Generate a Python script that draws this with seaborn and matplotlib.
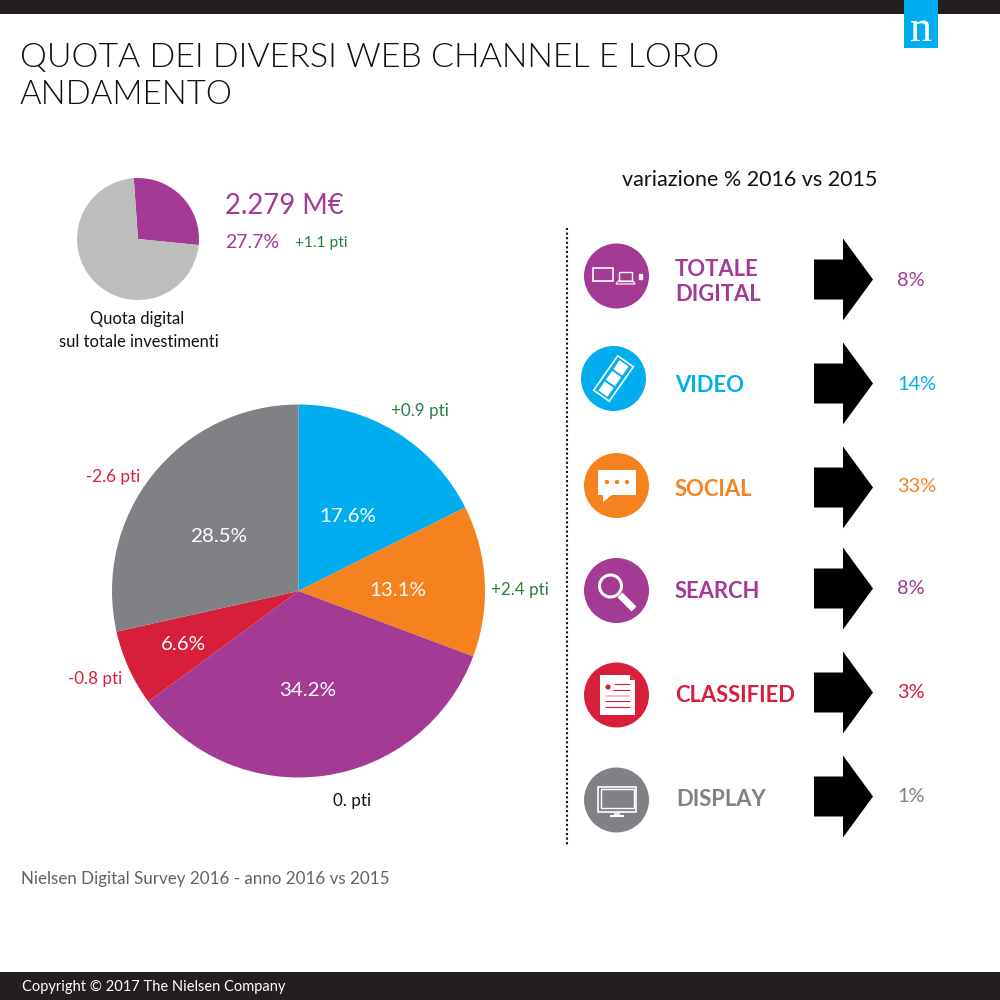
import matplotlib
matplotlib.use("Agg")
import matplotlib.pyplot as plt
from matplotlib.patches import Circle, Polygon, Rectangle
import seaborn as sns

# ---- Data ----
channels = ["VIDEO", "SOCIAL", "SEARCH", "CLASSIFIED", "DISPLAY"]
shares = [17.6, 13.1, 34.2, 6.6, 28.5]
share_labels = ["17.6%", "13.1%", "34.2%", "6.6%", "28.5%"]
pti_labels = ["+0.9 pti", "+2.4 pti", "0. pti", "-0.8 pti", "-2.6 pti"]
digital_share = [27.7, 72.3]
row_names = ["TOTALE\nDIGITAL", "VIDEO", "SOCIAL", "SEARCH", "CLASSIFIED", "DISPLAY"]
row_changes = ["8%", "14%", "33%", "8%", "3%", "1%"]

# ---- Colours ----
PURPLE = "#a33a94"
BLUE = "#00aeef"
ORANGE = "#f6821f"
RED = "#d71f3c"
GREY = "#808184"
GREEN = "#27813f"
DARK = "#231f20"
pie_colors = sns.color_palette([BLUE, ORANGE, PURPLE, RED, GREY])
row_colors = [PURPLE, BLUE, ORANGE, PURPLE, RED, GREY]

sns.set_theme(style="white")
plt.rcParams["font.family"] = ["Lato", "DejaVu Sans"]


def px(size):
    # font size in pixels at dpi 100
    return size * 0.72


def pie_axes(fig, cx, cy, r):
    ax = fig.add_axes([(cx - r) / 1000, 1 - (cy + r) / 1000, 2 * r / 1000, 2 * r / 1000])
    return ax


fig = plt.figure(figsize=(10, 10), dpi=100, facecolor="white")

# ---- Small pie ----
ax_small = pie_axes(fig, 138, 239, 61)
ax_small.pie(digital_share, colors=[PURPLE, "#bdbdbd"], startangle=94, counterclock=False,
             radius=1, wedgeprops={"linewidth": 0})
ax_small.set_xlim(-1, 1)
ax_small.set_ylim(-1, 1)

# ---- Big pie ----
ax_big = pie_axes(fig, 298.5, 591, 186.5)
ax_big.pie(shares, colors=pie_colors, startangle=90, counterclock=False,
           radius=1, wedgeprops={"linewidth": 0})
ax_big.set_xlim(-1, 1)
ax_big.set_ylim(-1, 1)

# full page layer on top, in pixels
bg = fig.add_axes([0, 0, 1, 1])
bg.set_xlim(0, 1000)
bg.set_ylim(1000, 0)
bg.axis("off")
bg.patch.set_alpha(0)

# ---- Header and footer ----
bg.add_patch(Rectangle((0, 0), 1000, 14, color=DARK, lw=0))
bg.add_patch(Rectangle((0, 972), 1000, 28, color=DARK, lw=0))
bg.add_patch(Rectangle((904, 0), 34, 48, color=BLUE, lw=0))
bg.text(921, 30, "n", color="white", fontsize=px(44), family="Liberation Serif",
        ha="center", va="center")

bg.text(20, 58, "QUOTA DEI DIVERSI WEB CHANNEL E LORO", fontsize=px(34), color="#111111",
        va="center", fontweight=300)
bg.text(20, 95, "ANDAMENTO", fontsize=px(33), color="#111111", va="center", fontweight=300)

bg.text(21, 879, "Nielsen Digital Survey 2016 - anno 2016 vs 2015", fontsize=px(17),
        color="#626366", va="center")
bg.text(22, 987, "Copyright © 2017 The Nielsen Company", fontsize=px(14.6), color="white", va="center")

# ---- Small pie labels ----
bg.text(225, 206, "2.279 M€", fontsize=px(27.5), color=PURPLE, va="center")
bg.text(225, 243, "27.7%", fontsize=px(19.5), color=PURPLE, va="center")
bg.text(295, 243, "+1.1 pti", fontsize=px(15.5), color=GREEN, va="center")
bg.text(137, 319, "Quota digital", fontsize=px(16.5), color="#111111", ha="center", va="center")
bg.text(139, 342, "sul totale investimenti", fontsize=px(16.5), color="#111111", ha="center", va="center")

# ---- Big pie labels ----
share_xy = [(348, 516), (398, 591), (308, 691), (183, 644), (219, 537)]
for label, (x, y) in zip(share_labels, share_xy):
    bg.text(x, y, label, fontsize=px(20.5), color="white", ha="center", va="center")

pti_xy = [(420, 411), (520, 590), (352, 801), (95, 679), (113, 477)]
pti_colors = [GREEN, GREEN, "#111111", RED, RED]
for label, (x, y), col in zip(pti_labels, pti_xy, pti_colors):
    bg.text(x, y, label, fontsize=px(17), color=col, ha="center", va="center")

# ---- Right panel ----
bg.text(750, 180, "variazione % 2016 vs 2015", fontsize=px(21.5), color="#111111", ha="center", va="center")
bg.plot([567, 567], [228, 845], color="#111111", lw=1.5, ls=(0, (1, 1.2)))

circle_xy = [(616.5, 276), (613.5, 378.5), (616.5, 485.5), (616.5, 590.5), (616.5, 695), (616.5, 800)]
name_xy = [(675, 282), (675, 385), (675, 490), (675, 591), (675, 696), (676, 800)]
arrow_y = [279.5, 383.5, 487.5, 588.5, 692.5, 796.5]
change_y = [280, 384, 487, 589, 693, 797]

for i, name in enumerate(row_names):
    col = row_colors[i]
    cx, cy = circle_xy[i]
    bg.add_patch(Circle((cx, cy), 32.5, color=col, lw=0))
    bg.text(name_xy[i][0], name_xy[i][1], name, fontsize=px(22), color=col, va="center",
            fontweight="bold", linespacing=1.25)
    y = arrow_y[i]
    bg.add_patch(Polygon([(814, y - 20), (843, y - 20), (843, y - 41), (873, y), (843, y + 41),
                          (843, y + 20), (814, y + 20)], closed=True, color="black", lw=0))
    bg.text(897, change_y[i], row_changes[i], fontsize=px(20), color=col, va="center")


def outline(xy, w, h, lw=1.0, color="white", fill=False):
    bg.add_patch(Rectangle(xy, w, h, fill=fill, ec=color, fc=color if fill else "none", lw=lw))


def hline(x0, x1, y, color="white", lw=1.0):
    bg.plot([x0, x1], [y, y], color=color, lw=lw, solid_capstyle="butt")


# totale digital: monitor, laptop, phone
outline((593, 268), 20, 13, lw=1.2)
outline((619, 272), 13, 9, lw=1)
bg.add_patch(Polygon([(618, 281), (633, 281), (635, 284), (616, 284)], closed=True, fill=False, ec="white", lw=0.8))
outline((639, 274), 3, 5, lw=1, fill=True)

# video: tilted film strip
cx, cy = circle_xy[1]
bg.add_patch(Rectangle((cx - 9.5, cy - 21), 19, 42, angle=35, rotation_point="center", fill=False, ec="white", lw=1.2))
for off in [-13, 0, 13]:
    bg.add_patch(Rectangle((cx - off * 0.57 - 5.5, cy + off * 0.82 - 5.5), 11, 11, angle=35,
                           rotation_point="center", color="white", lw=0))

# social: speech bubble
bg.add_patch(Polygon([(598, 470), (636, 470), (636, 495), (612, 495), (603, 502), (603, 495), (598, 495)],
                     closed=True, color="white", lw=0))
for dx in [-10, 0, 10]:
    bg.add_patch(Circle((617 + dx, 482), 2.2, color=ORANGE, lw=0))

# search: magnifying glass
bg.add_patch(Circle((610.5, 586), 11, fill=False, ec="white", lw=2.2))
bg.plot([620, 634], [595, 609], color="white", lw=5, solid_capstyle="butt")

# classified: sheet of paper
bg.add_patch(Polygon([(600, 675), (630, 675), (635, 680), (635, 715), (600, 715)], closed=True, color="white", lw=0))
bg.add_patch(Polygon([(630, 675), (635, 680), (630, 680)], closed=True, color=RED, lw=0))
bg.add_patch(Circle((608, 687), 2.6, color=RED, lw=0))
hline(614, 630, 684, RED, 0.8)
hline(613, 630, 690, RED, 0.8)
hline(605, 630, 696, "#f2b6c1", 1.2)
hline(605, 630, 701, RED, 0.8)
hline(605, 630, 707, RED, 0.8)

# display: monitor
outline((598, 787), 38, 25, lw=1.2)
outline((600.5, 789), 33, 19, lw=1.0)
hline(614, 620, 813.5, "white", 1.2)
hline(610, 624, 815.5, "white", 1.5)

fig.savefig("out.png", dpi=100, facecolor="white")
